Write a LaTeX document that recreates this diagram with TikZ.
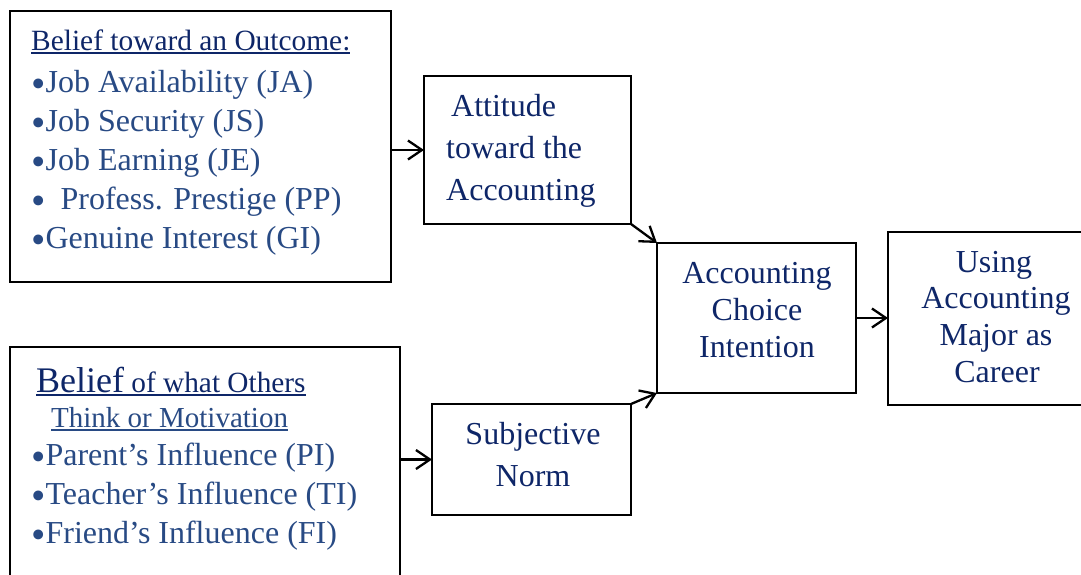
\documentclass[tikz,border=0pt]{standalone}
\usepackage{fontspec}
\setmainfont{Liberation Serif}
\usetikzlibrary{arrows.meta}
\definecolor{navy}{RGB}{14,38,104}
\definecolor{steel}{RGB}{40,74,132}
% underline with a fixed rule placed just below the baseline
\newcommand{\uline}[1]{\setbox0\hbox{#1}\leavevmode\rlap{\rule[-3.5pt]{\wd0}{1.6pt}}\box0}
% a larger list bullet
\newcommand{\blt}{{\fontsize{41}{41}\selectfont\raisebox{-5.5pt}{•}}}

\begin{document}
\begin{tikzpicture}[x=1pt,y=-1pt,
  frame/.style={draw, line width=2.3pt, inner sep=0pt, outer sep=0pt},
  link/.style={line width=2.3pt, -{Straight Barb[length=14pt,width=19pt]}},
  lead/.style={anchor=base west, inner sep=0pt, text=navy},
  item/.style={anchor=base west, inner sep=0pt, text=steel, font=\fontsize{32}{38}\selectfont},
  label/.style={anchor=base, inner sep=0pt, text=navy, font=\fontsize{32}{38}\selectfont},
  labelw/.style={anchor=base west, inner sep=0pt, text=navy, font=\fontsize{32}{38}\selectfont}]
\clip (0,0) rectangle (1081,574);

% boxes
\node[frame, minimum width=381pt, minimum height=271pt] (outcome) at (200.5,146.5) {};
\node[frame, minimum width=390pt, minimum height=290pt] (others) at (205,492) {};
\node[frame, minimum width=207pt, minimum height=148pt] (attitude) at (527.5,150) {};
\node[frame, minimum width=199pt, minimum height=111pt] (norm) at (531.5,459.5) {};
\node[frame, minimum width=199pt, minimum height=150pt] (intent) at (756.5,318) {};
\node[frame, minimum width=240pt, minimum height=173pt] (career) at (1008,318.5) {};

% beliefs toward an outcome
\node[lead, font=\fontsize{29.4}{34}\selectfont] (h1) at (31,50) {\uline{Belief toward an Outcome:}};
\node[item] (ja) at (31,92) {\blt Job Availability (JA)};
\node[item] (js) at (31,131) {\blt Job Security (JS)};
\node[item] (je) at (31,170) {\blt Job Earning (JE)};
\node[item] (pp) at (31,209) {\blt\hspace{15pt}Profess. Prestige (PP)};
\node[item] (gi) at (31,248) {\blt Genuine Interest (GI)};

% beliefs about what others think
\node[lead] (h2) at (36,392) {\uline{\fontsize{36}{40}\selectfont Belief\fontsize{29.3}{34}\selectfont{} of what Others}};
\node[lead, text=steel, font=\fontsize{29}{34}\selectfont] (h3) at (51,427) {\uline{Think or Motivation}};
\node[item] (pi) at (31,465) {\blt Parent’s Influence (PI)};
\node[item] (ti) at (31,504) {\blt Teacher’s Influence (TI)};
\node[item] (fi) at (31,543) {\blt Friend’s Influence (FI)};

% attitude
\node[labelw] (at1) at (451,116) {Attitude};
\node[labelw] (at2) at (446,158) {toward the};
\node[labelw] (at3) at (446,200) {Accounting};

% subjective norm
\node[label] (sn1) at (533,444) {Subjective};
\node[label] (sn2) at (533,486) {Norm};

% intention
\node[label] (ci1) at (757,283) {Accounting};
\node[label] (ci2) at (757,320) {Choice};
\node[label] (ci3) at (757,357) {Intention};

% outcome behaviour
\node[label] (uc1) at (994,272) {Using};
\node[label] (uc2) at (996,308) {Accounting};
\node[label] (uc3) at (996,345) {Major as};
\node[label] (uc4) at (997,382) {Career};

% connectors
\draw[link] (attitude.west -| outcome.east) -- (attitude.west);
\draw[link] (others.east |- norm.west) -- (norm.west);
\draw[link] (attitude.south east) -- (intent.north west);
\draw[link] (norm.north east) -- (intent.south west);
\draw[link] (intent.east) -- (intent.east -| career.west);
\end{tikzpicture}
\end{document}
